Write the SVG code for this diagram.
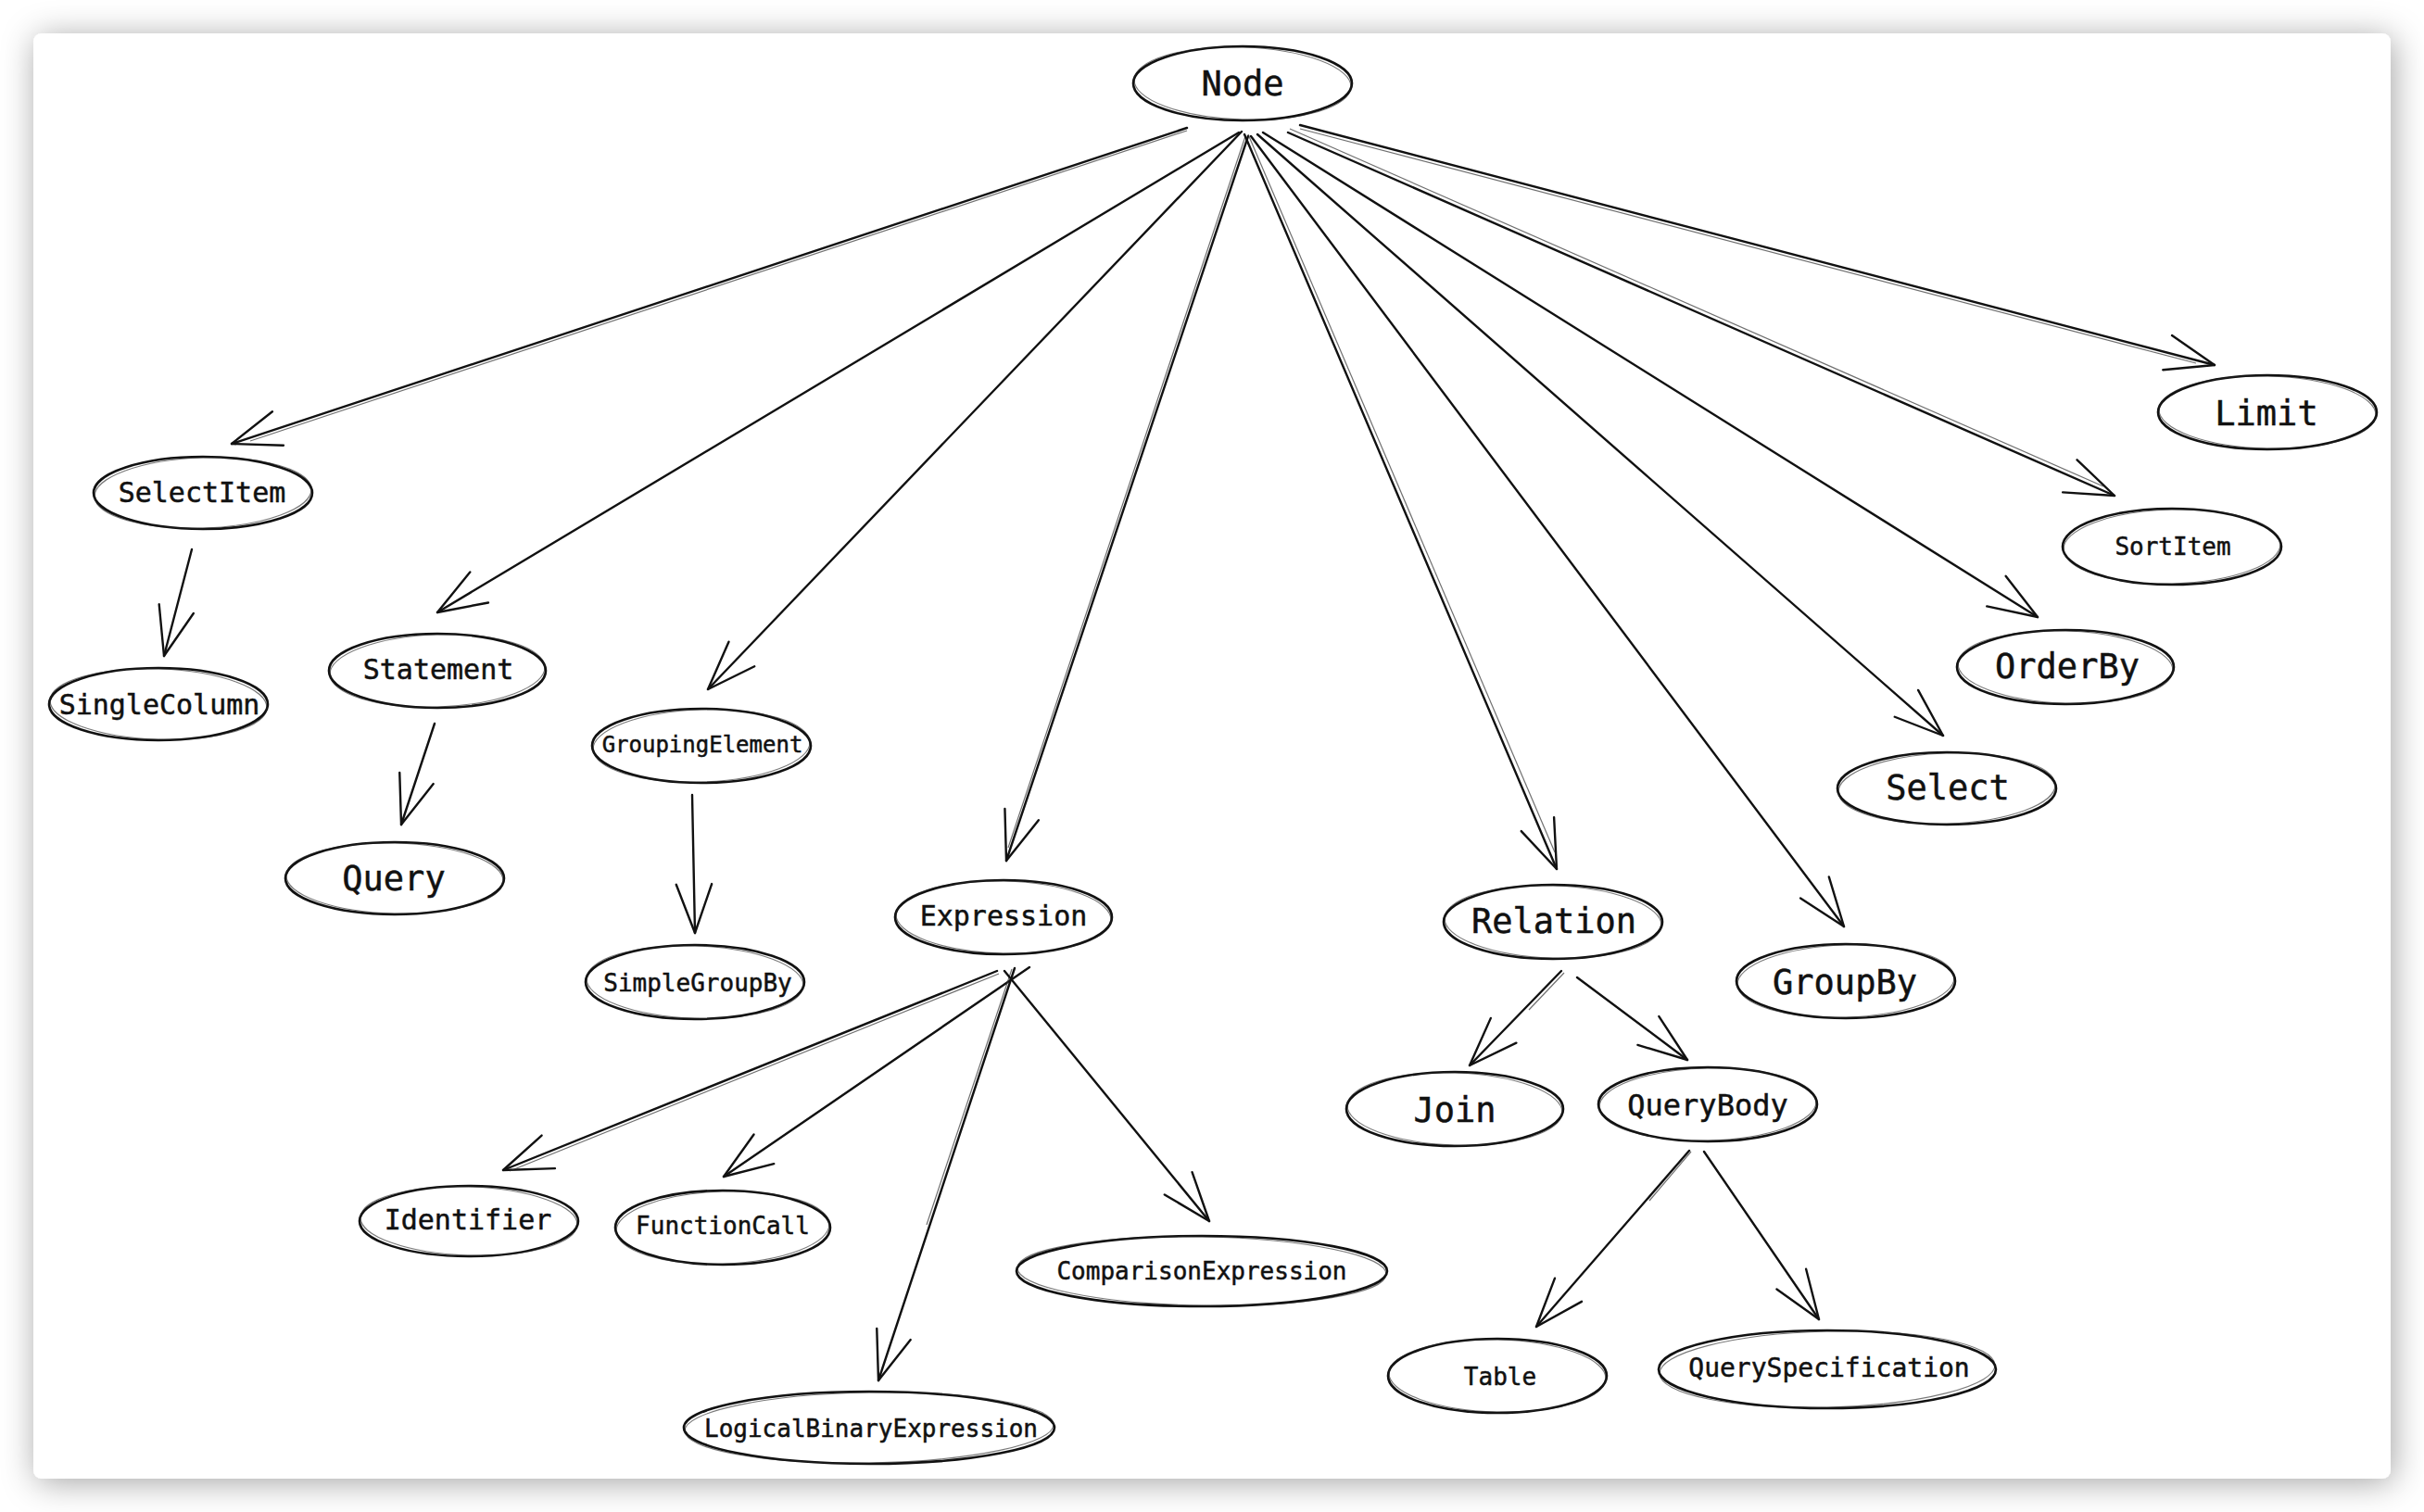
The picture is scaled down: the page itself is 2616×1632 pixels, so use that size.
<svg xmlns="http://www.w3.org/2000/svg" width="2616" height="1632" viewBox="0 0 2616 1632">
<defs>
<filter id="shadow" x="-10%" y="-10%" width="120%" height="120%">
<feGaussianBlur in="SourceAlpha" stdDeviation="18"/>
<feOffset dx="3" dy="4" result="b"/>
<feFlood flood-color="#000" flood-opacity="0.36"/>
<feComposite in2="b" operator="in"/>
<feMerge><feMergeNode/><feMergeNode in="SourceGraphic"/></feMerge>
</filter>
<marker id="arr" markerUnits="userSpaceOnUse" orient="auto" overflow="visible" markerWidth="1" markerHeight="1" refX="0" refY="0">
<path d="M-52.6,-19.2 L0,0 L-52.6,19.2" fill="none" stroke="#111" stroke-width="2.4" stroke-linecap="round" stroke-linejoin="round"/>
</marker>
</defs>
<style>
.e{fill:#fff;stroke:#111;stroke-width:2.6}
.e2{fill:none;stroke:#222;stroke-width:1.1;opacity:.6}
.c{stroke:#111;stroke-width:2.4;fill:none;stroke-linecap:round}
.c2{stroke:#333;stroke-width:1.2;fill:none;opacity:.7}
text{font-family:"DejaVu Sans Mono","Liberation Mono",monospace;fill:#111;stroke:#111;stroke-width:0.5;text-anchor:middle;dominant-baseline:central}
.xl{font-size:37px}
.l{font-size:30px}
.m{font-size:26px}
.s{font-size:24px}
</style>
<rect width="2616" height="1632" fill="#fff"/>
<rect x="36" y="36" width="2544" height="1560" rx="9" fill="#fff" filter="url(#shadow)"/>

<g id="connectors">
<line class="c" x1="1281" y1="138" x2="250" y2="479" marker-end="url(#arr)"/>
<line class="c2" x1="1281" y1="141" x2="270" y2="476"/>
<line class="c" x1="1337" y1="143" x2="472" y2="661" marker-end="url(#arr)"/>
<line class="c" x1="1340" y1="142" x2="764" y2="744" marker-end="url(#arr)"/>
<line class="c" x1="1347" y1="147" x2="1086" y2="929" marker-end="url(#arr)"/>
<line class="c2" x1="1344" y1="147" x2="1088" y2="915"/>
<line class="c" x1="1343" y1="145" x2="1680" y2="938" marker-end="url(#arr)"/>
<line class="c2" x1="1347" y1="145" x2="1678" y2="920"/>
<line class="c" x1="1350" y1="147" x2="1990" y2="1000" marker-end="url(#arr)"/>
<line class="c" x1="1357" y1="145" x2="2097" y2="794" marker-end="url(#arr)"/>
<line class="c" x1="1363" y1="143" x2="2199" y2="666" marker-end="url(#arr)"/>
<line class="c" x1="1390" y1="143" x2="2282" y2="535" marker-end="url(#arr)"/>
<line class="c2" x1="1392" y1="139" x2="2270" y2="525"/>
<line class="c" x1="1403" y1="135" x2="2390" y2="394" marker-end="url(#arr)"/>
<line class="c2" x1="1403" y1="139" x2="2370" y2="392"/>
<line class="c" x1="207" y1="593" x2="177" y2="708" marker-end="url(#arr)"/>
<line class="c" x1="469" y1="781" x2="433" y2="890" marker-end="url(#arr)"/>
<line class="c" x1="747" y1="858" x2="750" y2="1007" marker-end="url(#arr)"/>
<line class="c" x1="1076" y1="1048" x2="543" y2="1263" marker-end="url(#arr)"/>
<line class="c2" x1="1078" y1="1051" x2="550" y2="1264"/>
<line class="c" x1="1111" y1="1044" x2="781" y2="1270" marker-end="url(#arr)"/>
<line class="c" x1="1095" y1="1045" x2="948" y2="1490" marker-end="url(#arr)"/>
<line class="c2" x1="1092" y1="1046" x2="1000" y2="1322"/>
<line class="c" x1="1084" y1="1048" x2="1305" y2="1318" marker-end="url(#arr)"/>
<line class="c" x1="1685" y1="1048" x2="1586" y2="1150" marker-end="url(#arr)"/>
<line class="c2" x1="1688" y1="1050" x2="1650" y2="1090"/>
<line class="c" x1="1702" y1="1055" x2="1821" y2="1144" marker-end="url(#arr)"/>
<line class="c" x1="1823" y1="1242" x2="1658" y2="1432" marker-end="url(#arr)"/>
<line class="c2" x1="1825" y1="1243" x2="1780" y2="1296"/>
<line class="c" x1="1839" y1="1243" x2="1963" y2="1424" marker-end="url(#arr)"/>
</g>

<g id="node-Node"><ellipse class="e" cx="1341" cy="90" rx="118" ry="40"/><ellipse class="e2" cx="1341" cy="90" rx="117" ry="39" transform="rotate(2 1341 90)"/><text class="xl" x="1341" y="90">Node</text></g>
<g id="node-SelectItem"><ellipse class="e" cx="219" cy="532" rx="118" ry="39"/><ellipse class="e2" cx="219" cy="532" rx="117" ry="38" transform="rotate(-2 219 532)"/><text class="l" x="218" y="531">SelectItem</text></g>
<g id="node-SingleColumn"><ellipse class="e" cx="171" cy="760" rx="118" ry="39"/><ellipse class="e2" cx="171" cy="760" rx="117" ry="38" transform="rotate(2 171 760)"/><text class="l" x="172" y="760">SingleColumn</text></g>
<g id="node-Statement"><ellipse class="e" cx="472" cy="724" rx="117" ry="40"/><ellipse class="e2" cx="472" cy="724" rx="116" ry="39" transform="rotate(-2 472 724)"/><text class="l" x="473" y="722">Statement</text></g>
<g id="node-Query"><ellipse class="e" cx="426" cy="948" rx="118" ry="39"/><ellipse class="e2" cx="426" cy="948" rx="117" ry="38" transform="rotate(1.5 426 948)"/><text class="xl" x="425" y="948">Query</text></g>
<g id="node-GroupingElement"><ellipse class="e" cx="757" cy="805" rx="118" ry="40"/><ellipse class="e2" cx="757" cy="805" rx="117" ry="39" transform="rotate(-2 757 805)"/><text class="s" x="758" y="804">GroupingElement</text></g>
<g id="node-SimpleGroupBy"><ellipse class="e" cx="750" cy="1060" rx="118" ry="40"/><ellipse class="e2" cx="750" cy="1060" rx="117" ry="39" transform="rotate(2 750 1060)"/><text class="m" x="753" y="1061">SimpleGroupBy</text></g>
<g id="node-Expression"><ellipse class="e" cx="1083" cy="990" rx="117" ry="40"/><ellipse class="e2" cx="1083" cy="990" rx="116" ry="39" transform="rotate(1.5 1083 990)"/><text class="l" x="1083" y="988">Expression</text></g>
<g id="node-Relation"><ellipse class="e" cx="1676" cy="995" rx="118" ry="40"/><ellipse class="e2" cx="1676" cy="995" rx="117" ry="39" transform="rotate(2 1676 995)"/><text class="xl" x="1677" y="994">Relation</text></g>
<g id="node-GroupBy"><ellipse class="e" cx="1992" cy="1059" rx="118" ry="40"/><ellipse class="e2" cx="1992" cy="1059" rx="117" ry="39" transform="rotate(-2 1992 1059)"/><text class="xl" x="1991" y="1060">GroupBy</text></g>
<g id="node-Join"><ellipse class="e" cx="1570" cy="1197" rx="117" ry="40"/><ellipse class="e2" cx="1570" cy="1197" rx="116" ry="39" transform="rotate(2 1570 1197)"/><text class="xl" x="1570" y="1198">Join</text></g>
<g id="node-QueryBody"><ellipse class="e" cx="1843" cy="1192" rx="118" ry="40"/><ellipse class="e2" cx="1843" cy="1192" rx="117" ry="39" transform="rotate(-1.5 1843 1192)"/><text class="l" x="1843" y="1193" style="font-size:32px">QueryBody</text></g>
<g id="node-Table"><ellipse class="e" cx="1616" cy="1485" rx="118" ry="40"/><ellipse class="e2" cx="1616" cy="1485" rx="117" ry="39" transform="rotate(1.5 1616 1485)"/><text class="m" x="1619" y="1486">Table</text></g>
<g id="node-QuerySpecification"><ellipse class="e" cx="1972" cy="1478" rx="182" ry="42"/><ellipse class="e2" cx="1972" cy="1478" rx="181" ry="41" transform="rotate(-1.5 1972 1478)"/><text class="m" x="1974" y="1476" style="font-size:28px">QuerySpecification</text></g>
<g id="node-Limit"><ellipse class="e" cx="2447" cy="445" rx="118" ry="40"/><ellipse class="e2" cx="2447" cy="445" rx="117" ry="39" transform="rotate(1.5 2447 445)"/><text class="xl" x="2446" y="446">Limit</text></g>
<g id="node-SortItem"><ellipse class="e" cx="2344" cy="590" rx="118" ry="41"/><ellipse class="e2" cx="2344" cy="590" rx="117" ry="40" transform="rotate(-1.5 2344 590)"/><text class="m" x="2345" y="590">SortItem</text></g>
<g id="node-OrderBy"><ellipse class="e" cx="2229" cy="720" rx="117" ry="40"/><ellipse class="e2" cx="2229" cy="720" rx="116" ry="39" transform="rotate(2 2229 720)"/><text class="xl" x="2231" y="719">OrderBy</text></g>
<g id="node-Select"><ellipse class="e" cx="2101" cy="851" rx="118" ry="39"/><ellipse class="e2" cx="2101" cy="851" rx="117" ry="38" transform="rotate(-2 2101 851)"/><text class="xl" x="2102" y="850">Select</text></g>
<g id="node-Identifier"><ellipse class="e" cx="506" cy="1318" rx="118" ry="38"/><ellipse class="e2" cx="506" cy="1318" rx="117" ry="37" transform="rotate(2 506 1318)"/><text class="l" x="505" y="1316">Identifier</text></g>
<g id="node-FunctionCall"><ellipse class="e" cx="780" cy="1325" rx="116" ry="40"/><ellipse class="e2" cx="780" cy="1325" rx="115" ry="39" transform="rotate(-2 780 1325)"/><text class="m" x="780" y="1323">FunctionCall</text></g>
<g id="node-ComparisonExpression"><ellipse class="e" cx="1297" cy="1372" rx="200" ry="38"/><ellipse class="e2" cx="1297" cy="1372" rx="199" ry="37" transform="rotate(1 1297 1372)"/><text class="m" x="1297" y="1372">ComparisonExpression</text></g>
<g id="node-LogicalBinaryExpression"><ellipse class="e" cx="938" cy="1541" rx="200" ry="39"/><ellipse class="e2" cx="938" cy="1541" rx="199" ry="38" transform="rotate(-1 938 1541)"/><text class="m" x="940" y="1542">LogicalBinaryExpression</text></g>
</svg>
